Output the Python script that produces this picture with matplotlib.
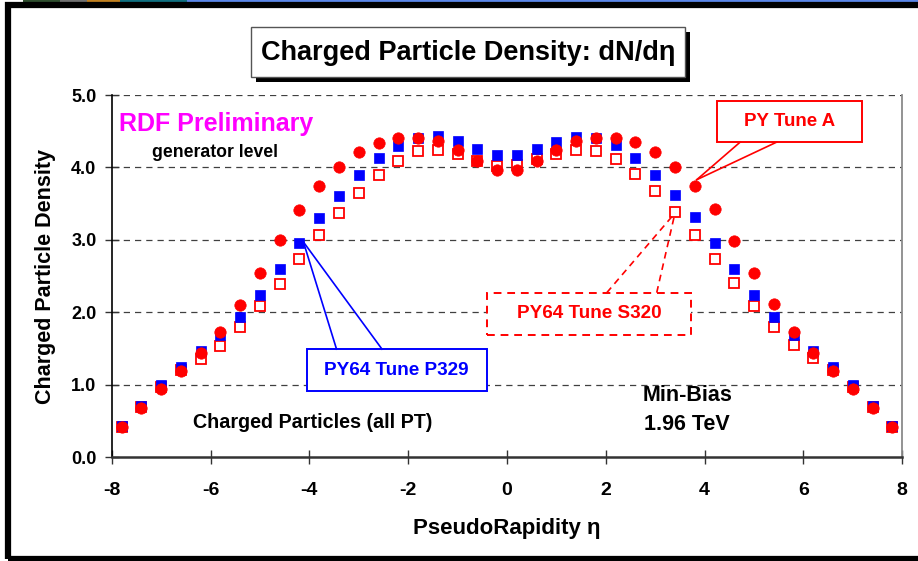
import matplotlib
matplotlib.use("Agg")
import matplotlib.pyplot as plt
from matplotlib import font_manager
from matplotlib.patches import Rectangle
from matplotlib.lines import Line2D

# ---------------- data ----------------
eta = [-7.8, -7.4, -7.0, -6.6, -6.2, -5.8, -5.4, -5.0, -4.6, -4.2,
       -3.8, -3.4, -3.0, -2.6, -2.2, -1.8, -1.4, -1.0, -0.6, -0.2,
       0.2, 0.6, 1.0, 1.4, 1.8, 2.2, 2.6, 3.0, 3.4, 3.8,
       4.2, 4.6, 5.0, 5.4, 5.8, 6.2, 6.6, 7.0, 7.4, 7.8]
tune_a = [0.41, 0.67, 0.94, 1.19, 1.43, 1.73, 2.10, 2.54, 3.00, 3.41,
          3.75, 4.00, 4.21, 4.34, 4.41, 4.41, 4.37, 4.24, 4.09, 3.97,
          3.97, 4.09, 4.24, 4.36, 4.41, 4.41, 4.35, 4.21, 4.01, 3.75,
          3.42, 2.99, 2.54, 2.11, 1.72, 1.44, 1.19, 0.94, 0.67, 0.41]
tune_p329 = [0.43, 0.71, 1.00, 1.25, 1.47, 1.68, 1.93, 2.24, 2.59, 2.95,
             3.30, 3.61, 3.89, 4.13, 4.30, 4.40, 4.43, 4.36, 4.25, 4.17,
             4.17, 4.25, 4.35, 4.42, 4.41, 4.31, 4.13, 3.90, 3.62, 3.31,
             2.95, 2.59, 2.24, 1.94, 1.68, 1.47, 1.25, 1.00, 0.71, 0.43]
tune_s320 = [0.42, 0.69, 0.97, 1.20, 1.36, 1.53, 1.79, 2.08, 2.39, 2.73,
             3.06, 3.37, 3.65, 3.90, 4.09, 4.22, 4.24, 4.19, 4.09, 4.02,
             4.03, 4.11, 4.19, 4.24, 4.22, 4.11, 3.91, 3.67, 3.38, 3.06,
             2.74, 2.40, 2.08, 1.80, 1.55, 1.37, 1.20, 0.97, 0.69, 0.42]
xticks = [-8, -6, -4, -2, 0, 2, 4, 6, 8]
yticks = [0.0, 1.0, 2.0, 3.0, 4.0, 5.0]
ytick_labels = ["0.0", "1.0", "2.0", "3.0", "4.0", "5.0"]

BLUE = "#0000ff"
RED = "#ff0000"
MAG = "#ff00ff"

names = {f.name for f in font_manager.fontManager.ttflist}
SANS = ["Liberation Sans", "DejaVu Sans"]
if "Liberation Sans Narrow" in names:
    TITLE_FAM = ["Liberation Sans Narrow", "DejaVu Sans"]
    TITLE_SIZE = 23
else:
    TITLE_FAM = SANS
    TITLE_SIZE = 19.5
plt.rcParams["font.family"] = SANS
plt.rcParams["font.weight"] = "bold"

W, H = 918, 561
fig = plt.figure(figsize=(W / 100, H / 100), dpi=100)
fig.patch.set_facecolor("white")

def fx(px):
    return px / W

def fy(py):
    return 1 - py / H

# ---------------- decorative frame ----------------
strip = [(0, 23, "#ffffff"), (23, 60, "#2f4f2f"), (60, 87, "#707070"),
         (87, 120, "#c08020"), (120, 187, "#107080"), (187, 918, "#5a86e8")]
for x0, x1, c in strip:
    fig.patches.append(Rectangle((fx(x0), fy(3)), fx(x1 - x0), 3 / H,
                                 transform=fig.transFigure, facecolor=c,
                                 edgecolor="none", zorder=0))
fig.patches.append(Rectangle((fx(8), fy(558.5)), fx(930), (558.5 - 5) / H,
                             transform=fig.transFigure, facecolor="none",
                             edgecolor="black", lw=4.5, zorder=1))

# ---------------- axes ----------------
L, R, T, B = 111.7, 902.3, 95, 457
ax = fig.add_axes([fx(L), fy(B), fx(R - L), (B - T) / H])
ax.set_xlim(-8, 8)
ax.set_ylim(0, 5)
ax.set_facecolor("white")

for y in yticks[1:]:
    ax.axhline(y, color="#404040", lw=0.9, dashes=(5, 4), zorder=1)

ax.plot(eta, tune_s320, linestyle="none", marker="s", markersize=7.3,
        markerfacecolor="white", markeredgecolor=RED, markeredgewidth=1.3,
        zorder=3)
ax.plot(eta, tune_p329, linestyle="none", marker="s", markersize=7.9,
        markerfacecolor=BLUE, markeredgecolor=BLUE, markeredgewidth=0.5,
        zorder=4)
ax.plot(eta, tune_a, linestyle="none", marker="o", markersize=8.2,
        markerfacecolor=RED, markeredgecolor=RED, markeredgewidth=0.5,
        zorder=5)

ax.spines["top"].set_visible(False)
ax.spines["left"].set_color("black")
ax.spines["left"].set_linewidth(1.2)
ax.spines["bottom"].set_color("#333333")
ax.spines["bottom"].set_linewidth(1.8)
ax.spines["right"].set_color("#8a8a8a")
ax.spines["right"].set_linewidth(1.3)

ax.set_xticks(xticks)
ax.set_xticklabels([str(v) for v in xticks])
ax.set_yticks(yticks)
ax.set_yticklabels(ytick_labels)
ax.tick_params(axis="x", direction="inout", length=9.5, width=1.0,
               color="#333333", pad=13, labelsize=14)
ax.tick_params(axis="y", direction="inout", length=10, width=1.0,
               color="#333333", pad=6, labelsize=13)
for lab in ax.get_xticklabels() + ax.get_yticklabels():
    lab.set_fontweight("bold")

ax.set_xlabel("PseudoRapidity η", fontsize=16, fontweight="bold", labelpad=14)
ax.set_ylabel("Charged Particle Density", fontsize=15.5, fontweight="bold",
              labelpad=11)

# ---------------- in-plot texts ----------------
ax.text(-7.85, 4.60, "RDF Preliminary", color=MAG, fontsize=18,
        fontweight="bold", ha="left", va="center", zorder=6)
ax.text(-7.18, 4.20, "generator level", color="black", fontsize=12.7,
        fontweight="bold", ha="left", va="center", zorder=6)
ax.text(-6.35, 0.47, "Charged Particles (all PT)", color="black",
        fontsize=14.2, fontweight="bold", ha="left", va="center", zorder=6)
ax.text(3.65, 0.845, "Min-Bias", color="black", fontsize=15.5,
        fontweight="bold", ha="center", va="center", zorder=6)
ax.text(3.65, 0.455, "1.96 TeV", color="black", fontsize=15.5,
        fontweight="bold", ha="center", va="center", zorder=6)

# ---------------- callout boxes ----------------
# PY Tune A
ax.add_patch(Rectangle((4.24, 4.35), 7.19 - 4.24, 4.92 - 4.35,
                       facecolor="white", edgecolor=RED, lw=1.4, zorder=7))
for bx in (4.72, 5.46):
    ax.add_line(Line2D([bx, 3.84], [4.35, 3.83], color=RED, lw=1.2, zorder=7))
ax.text(5.71, 4.64, "PY Tune A", color=RED, fontsize=13.5,
        fontweight="bold", ha="center", va="center", zorder=8)

# PY64 Tune S320 (dashed)
ds = (0, (4, 3))
ax.add_patch(Rectangle((-0.41, 1.685), 3.73 + 0.41, 2.27 - 1.685,
                       facecolor="white", edgecolor=RED, lw=1.4,
                       linestyle=ds, zorder=7))
for bx in (2.02, 3.03):
    ax.add_line(Line2D([bx, 3.40], [2.27, 3.37], color=RED, lw=1.2,
                       linestyle=ds, zorder=7))
ax.text(1.66, 1.98, "PY64 Tune S320", color=RED, fontsize=13.6,
        fontweight="bold", ha="center", va="center", zorder=8)

# PY64 Tune P329
ax.add_patch(Rectangle((-4.05, 0.91), 4.05 - 0.41, 1.49 - 0.91,
                       facecolor="white", edgecolor=BLUE, lw=1.4, zorder=7))
for bx in (-3.45, -2.53):
    ax.add_line(Line2D([bx, -4.12], [1.49, 2.97], color=BLUE, lw=1.2,
                       zorder=7))
ax.text(-2.23, 1.20, "PY64 Tune P329", color=BLUE, fontsize=13.6,
        fontweight="bold", ha="center", va="center", zorder=8)

# ---------------- title box ----------------
tx0, tx1, ty0, ty1 = 250.7, 685, 27, 77
fig.patches.append(Rectangle((fx(tx0 + 5), fy(ty1 + 4.5)), fx(tx1 - tx0),
                             (ty1 - ty0) / H, transform=fig.transFigure,
                             facecolor="black", edgecolor="black", lw=0,
                             zorder=2))
fig.patches.append(Rectangle((fx(tx0), fy(ty1)), fx(tx1 - tx0),
                             (ty1 - ty0) / H, transform=fig.transFigure,
                             facecolor="white", edgecolor="#555555", lw=1.0,
                             zorder=3))
fig.text(fx((tx0 + tx1) / 2), fy(53), "Charged Particle Density: dN/dη",
         family=TITLE_FAM, fontsize=TITLE_SIZE, fontweight="bold",
         ha="center", va="center", zorder=4)

fig.savefig("out.png", dpi=100)
